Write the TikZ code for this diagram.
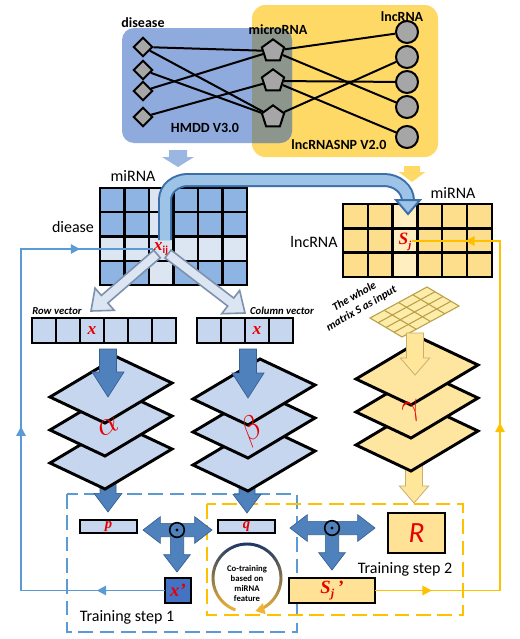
\documentclass[tikz,border=0pt]{standalone}
\usepackage{fontspec}
\setmainfont{Carlito}
\newfontfamily\tms{Liberation Serif}
\usetikzlibrary{shapes.geometric,arrows.meta,calc,decorations.markings}
\definecolor{boxblue}{RGB}{143,170,220}
\definecolor{boxyel}{RGB}{255,217,102}
\definecolor{ovl}{RGB}{140,150,140}
\definecolor{shgray}{RGB}{166,166,166}
\definecolor{mdark}{RGB}{141,180,226}
\definecolor{mpale}{RGB}{220,230,242}
\definecolor{ydark}{RGB}{253,222,140}
\definecolor{ypale}{RGB}{254,238,192}
\definecolor{vfill}{RGB}{198,214,238}
\definecolor{sfill}{RGB}{254,230,160}
\definecolor{arrblue}{RGB}{79,129,189}
\definecolor{arrblueb}{RGB}{55,96,146}
\definecolor{holfill}{RGB}{220,230,242}
\definecolor{holdraw}{RGB}{125,145,175}
\definecolor{fbblue}{RGB}{91,155,213}
\definecolor{fbyel}{RGB}{255,192,0}
\definecolor{xpfill}{RGB}{68,114,196}
\definecolor{navyc}{RGB}{32,56,100}
\definecolor{goldc}{RGB}{240,180,50}
\definecolor{redc}{RGB}{230,0,0}
\definecolor{bandb}{RGB}{60,110,170}
\definecolor{bandf}{RGB}{157,195,230}
\definecolor{yarrf}{RGB}{255,230,153}
\definecolor{yarrd}{RGB}{200,175,110}
\definecolor{topblue}{RGB}{155,183,225}
\definecolor{gridyel}{RGB}{253,236,170}
\definecolor{gridline}{RGB}{185,160,70}
\definecolor{rfill}{RGB}{255,226,150}

\newcommand\fatarrow[6]{%
  \coordinate (fah) at ($(#3)!#6!(#2)$);%
  \path[#1] ($(#2)!#4!90:(#3)$) -- ($(fah)!#4!90:(#3)$) -- ($(fah)!#5!90:(#3)$) -- (#3) -- ($(fah)!#5!-90:(#3)$) -- ($(fah)!#4!-90:(#3)$) -- ($(#2)!#4!-90:(#3)$) -- cycle;}
\newcommand\stacklayer[3]{%
  \draw[line width=2.2pt, fill=#3] ({#1-61},{#2+7}) -- ({#1+6},{#2-33}) -- ({#1+61},{#2-7}) -- ({#1-6},{#2+33}) -- cycle;}
\newcommand\redm{\color{redc}\tms\bfseries\itshape}

\tikzset{
 dia/.style={diamond, draw, line width=1.5pt, fill=shgray, minimum width=14.5pt, minimum height=14.5pt, inner sep=0pt},
 pent/.style={regular polygon, regular polygon sides=5, draw, line width=1.5pt, fill=shgray, minimum size=17.5pt, inner sep=0pt},
 circ/.style={circle, draw, line width=1.5pt, fill=shgray, minimum size=16.5pt, inner sep=0pt},
 net/.style={line width=1.5pt},
 toplab/.style={font=\bfseries\fontsize{10.5}{12}\selectfont, inner sep=1pt},
 mlab/.style={font=\fontsize{12}{14}\selectfont, inner sep=1pt},
 vlab/.style={font=\bfseries\itshape\fontsize{8}{9}\selectfont, inner sep=1pt},
 mline/.style={line width=1.8pt, line cap=rect},
 vcell/.style={draw, line width=1.5pt, fill=vfill, minimum width=18pt, minimum height=18.75pt, inner sep=0pt},
 solidarr/.style={fill=arrblue, draw=arrblueb, line width=0.5pt},
 yarr/.style={fill=yarrf, draw=yarrd, line width=0.6pt},
 holarr/.style={fill=holfill, draw=holdraw, line width=1.2pt},
 fbl/.style={fbblue, line width=1.4pt, line cap=rect},
 fol/.style={fbyel, line width=1.4pt, line cap=rect},
 midarrow/.style={postaction={decorate}, decoration={markings, mark=at position #1 with {\arrow{Triangle[length=7pt,width=7pt]}}}},
 dashbox/.style={line width=1.5pt, dash pattern=on 11pt off 5pt},
 obox/.style={draw, line width=1.5pt, inner sep=0pt},
 crossc/.style={circle, draw, line width=1.2pt, fill=arrblue, minimum size=11pt, inner sep=0pt},
 steplab/.style={font=\fontsize{12}{14}\selectfont, inner sep=1pt},
 greek/.style={inner sep=0pt, font=\color{redc}\fontsize{24}{24}\selectfont},
}

\begin{document}
\begin{tikzpicture}[x=0.75pt,y=-0.75pt]
\useasboundingbox (0,0) rectangle (520,639);
\fill[white] (0,0) rectangle (520,639);

% ---------- top databases ----------
\fill[boxyel, rounded corners=10pt] (252,5) rectangle (438,157);
\fill[boxblue, rounded corners=9pt] (122,28) rectangle (292,143);
\begin{scope}
  \clip[rounded corners=9pt] (122,28) rectangle (292,143);
  \fill[ovl, rounded corners=10pt] (252,5) rectangle (438,157);
\end{scope}

\node[dia] (d1) at (143,47) {};
\node[dia] (d2) at (143,70) {};
\node[dia] (d3) at (143,91) {};
\node[dia] (d4) at (143,117) {};
\node[pent] (m1) at (273,51) {};
\node[pent] (m2) at (273,81) {};
\node[pent] (m3) at (273,117) {};
\node[circ] (c1) at (407,32) {};
\node[circ] (c2) at (407,57) {};
\node[circ] (c3) at (407,82) {};
\node[circ] (c4) at (407,107) {};
\node[circ] (c5) at (407,137) {};
\foreach \a/\b in {d1/m1,d1/m3,d2/m3,d3/m1,d4/m2,m1/c1,m1/c4,m2/c3,m2/c5,m3/c2}
  \draw[net] (\a) -- (\b);

\node[toplab] (ldis) at (143,23) {disease};
\node[toplab] (lmic) at (278,30) {microRNA};
\node[toplab] (llnc) at (402,17) {lncRNA};
\node[toplab] (lhmdd) at (205,128) {HMDD V3.0};
\node[toplab] (lsnp) at (339,145) {lncRNASNP V2.0};

\coordinate (ta0) at (178,150); \coordinate (ta1) at (178,167);
\fatarrow{fill=topblue}{ta0}{ta1}{6.75pt}{12pt}{7.5pt}
\coordinate (tb0) at (412,166); \coordinate (tb1) at (412,182);
\fatarrow{fill=boxyel}{tb0}{tb1}{6pt}{10pt}{7.5pt}

% ---------- matrices ----------
\foreach \i in {0,...,5}{\foreach \j in {0,...,3}{%
  \ifnum\i=2 \def\mcol{mpale}\else\ifnum\j=2 \def\mcol{mpale}\else\def\mcol{mdark}\fi\fi
  \fill[\mcol] ({100+24.5*\i},{188+24.25*\j}) rectangle ++(24.5,24.25);}}
\foreach \i in {0,...,6} \draw[mline] ({100+24.5*\i},188) -- ({100+24.5*\i},285);
\foreach \j in {0,...,4} \draw[mline] (100,{188+24.25*\j}) -- (247,{188+24.25*\j});

\foreach \i in {0,...,5}{\foreach \j in {0,...,2}{%
  \ifnum\i=2 \def\mcol{ypale}\else\def\mcol{ydark}\fi
  \fill[\mcol] ({343+24.8*\i},{204+24.3*\j}) rectangle ++(24.8,24.3);}}
\foreach \i in {0,...,6} \draw[mline] ({343+24.8*\i},204) -- ({343+24.8*\i},277);
\foreach \j in {0,...,3} \draw[mline] (343,{204+24.3*\j}) -- (492,{204+24.3*\j});

\node[mlab] (lmi1) at (133,176) {miRNA};
\node[mlab] (ldie) at (73,227) {diease};
\node[mlab] (lmi2) at (453,193) {miRNA};
\node[mlab] (llnc2) at (314,242) {lncRNA};

% ---------- band arrow x_ij -> s_j ----------
\draw[bandb, line width=10.5pt] (165,240) -- (165,200) to[out=90,in=180] (188,180) -- (384,180) to[out=0,in=90] (408,201);
\draw[bandf, line width=7.5pt] (165,240) -- (165,200) to[out=90,in=180] (188,180) -- (384,180) to[out=0,in=90] (408,201);
\fill[bandf, draw=bandb, line width=1.5pt] (396,200) -- (420,200) -- (408,214) -- cycle;

% ---------- hollow arrows ----------
\coordinate (ha0) at (157,254); \coordinate (ha1) at (91,311);
\fatarrow{holarr}{ha0}{ha1}{3.75pt}{11pt}{13.5pt}
\coordinate (hb0) at (168,254); \coordinate (hb1) at (245,313);
\fatarrow{holarr}{hb0}{hb1}{3.75pt}{11pt}{13.5pt}

\node[inner sep=1pt] (xij) at (161,249) {\redm\fontsize{13}{13}\selectfont x\raisebox{-2.5pt}{\normalfont\bfseries\color{redc}\fontsize{8}{8}\selectfont ij}};
\node[inner sep=1pt] (sj) at (405,242) {\redm\fontsize{13}{13}\selectfont S\raisebox{-3pt}{\fontsize{8}{8}\selectfont j}};

% ---------- vectors ----------
\node[vlab] (lrow) at (57,311) {Row vector};
\node[vlab] (lcol) at (282,311) {Column vector};
\foreach \i in {0,...,5} \node[vcell] (r\i) at ({44+24*\i},330.5) {};
\foreach \i in {0,...,3} \node[vcell] (k\i) at ({209+24*\i},330.5) {};
\node[inner sep=0pt] (rx) at (r2) {\redm\fontsize{13}{13}\selectfont x};
\node[inner sep=0pt] (kx) at (k2) {\redm\fontsize{13}{13}\selectfont x};

% ---------- small grid ----------
\fill[gridyel, draw=gridline, line width=0.8pt] (370,318) -- (427,287) -- (459,306) -- (402,337) -- cycle;
\foreach \k in {1,2,3}{
  \draw[gridline, line width=0.8pt] ({370+57*\k/4},{318-31*\k/4}) -- ++(32,19);
  \draw[gridline, line width=0.8pt] ({370+32*\k/4},{318+19*\k/4}) -- ++(57,-31);}
\node[rotate=30, align=center, inner sep=0pt, font=\bfseries\itshape\fontsize{8.5}{10.5}\selectfont] (wm) at (358,303) {The whole\\matrix S as input};

% ---------- dashed training boxes ----------
\draw[dashbox, fbblue] (67,494) rectangle (297,632);
\draw[dashbox, fbyel] (207,504) rectangle (463,615);

% ---------- arrows behind stacks ----------
\coordinate (aa0) at (108,470); \coordinate (aa1) at (108,512);
\fatarrow{solidarr}{aa0}{aa1}{6pt}{10.5pt}{14pt}
\coordinate (ab0) at (247,470); \coordinate (ab1) at (247,513);
\fatarrow{solidarr}{ab0}{ab1}{6pt}{10.5pt}{14pt}
\coordinate (ag0) at (414,455); \coordinate (ag1) at (414,503);
\fatarrow{yarr}{ag0}{ag1}{6.4pt}{11pt}{12.75pt}

% ---------- stacks ----------
\stacklayer{111}{456}{vfill}
\stacklayer{111}{423}{vfill}
\stacklayer{111}{390}{vfill}
\stacklayer{254}{458}{vfill}
\stacklayer{254}{425}{vfill}
\stacklayer{254}{392}{vfill}
\stacklayer{417}{438}{sfill}
\stacklayer{417}{405}{sfill}
\stacklayer{417}{372}{sfill}
\node[greek, rotate=25] (la) at (108,427) {$\alpha$};
\node[greek, rotate=35] (lb) at (252,431) {$\beta$};
\node[greek, rotate=20] (lg) at (412,412) {$\gamma$};

% ---------- arrows onto stacks ----------
\coordinate (ra0) at (108,349); \coordinate (ra1) at (108,397);
\fatarrow{solidarr}{ra0}{ra1}{6.4pt}{12pt}{18.75pt}
\coordinate (rb0) at (248,349); \coordinate (rb1) at (248,398);
\fatarrow{solidarr}{rb0}{rb1}{6.4pt}{12pt}{18.75pt}
\coordinate (rg0) at (415,333); \coordinate (rg1) at (415,375);
\fatarrow{yarr}{rg0}{rg1}{6.4pt}{11pt}{12.75pt}

% ---------- training boxes ----------
\node[obox, fill=vfill, minimum width=42.75pt, minimum height=9.75pt] (p) at (108.5,526.5) {\redm\fontsize{11}{11}\selectfont p};
\node[obox, fill=vfill, minimum width=42.75pt, minimum height=9.75pt] (q) at (246.5,526.5) {\redm\fontsize{11}{11}\selectfont q};
\node[obox, fill=xpfill, minimum width=19.5pt, minimum height=18.75pt] (xp) at (178,590.5) {\redm\fontsize{14}{14}\selectfont x’};
\node[obox, fill=rfill, minimum width=42.75pt, minimum height=30pt] (R) at (416.5,533) {\color{redc}\itshape\fontsize{22}{22}\selectfont R};
\node[obox, fill=rfill, minimum width=64.5pt, minimum height=18.75pt] (Sjp) at (332,590.5) {\redm\fontsize{14}{14}\selectfont S\raisebox{-3pt}{\fontsize{9}{9}\selectfont j}\,’};

% cross arrows
\coordinate (x1) at (177,530);
\coordinate (x1l) at (143,530); \coordinate (x1r) at (212,530); \coordinate (x1d) at (177,572);
\fatarrow{solidarr}{x1}{x1l}{5pt}{10pt}{13pt}
\fatarrow{solidarr}{x1}{x1r}{5pt}{10pt}{13pt}
\fatarrow{solidarr}{x1}{x1d}{5pt}{10pt}{13pt}
\node[crossc] (x1c) at (x1) {};
\fill (x1c) circle[radius=1.2pt];
\coordinate (x2) at (332,528);
\coordinate (x2l) at (290,528); \coordinate (x2r) at (375,528); \coordinate (x2d) at (332,570);
\fatarrow{solidarr}{x2}{x2l}{5pt}{10pt}{13pt}
\fatarrow{solidarr}{x2}{x2r}{5pt}{10pt}{13pt}
\fatarrow{solidarr}{x2}{x2d}{5pt}{10pt}{13pt}
\node[crossc] (x2c) at (x2) {};
\fill (x2c) circle[radius=1.2pt];

\node[steplab] (ts1) at (127,617) {Training step 1};
\node[steplab] (ts2) at (405,569) {Training step 2};

% co-training circle
\coordinate (cc) at (247,578);
\foreach \a in {250,245,...,-60}{
  \pgfmathtruncatemacro\t{50*(1-sin(\a))}
  \pgfmathsetmacro\b{\a-5.5}
  \draw[line width=2.2pt, color=goldc!\t!navyc] ($(cc)+(\a:25.5pt)$) arc[start angle=\a, end angle=\b, radius=25.5pt];}
\draw[goldc, line width=2.2pt, -{Triangle[length=7pt,width=8pt]}] ($(cc)+(-60:25.5pt)$) arc[start angle=-60, end angle=-76, radius=25.5pt];
\node[align=center, inner sep=0pt, font=\bfseries\fontsize{6.5}{7.3}\selectfont] (cot) at (247,583.5) {Co-training\\based on\\miRNA\\feature};

% ---------- feedback lines ----------
\coordinate (fbA) at (21,249); \coordinate (fbB) at (21,590.5);
\draw[fbl, midarrow=0.45] (fbA) -- (fbA -| xij.west);
\draw[fbl, midarrow=0.48] (fbB) -- (fbA);
\draw[fbl, midarrow=0.47] (xp.west) -- (fbB);
\coordinate (foA) at (500,241); \coordinate (foB) at (500,590.5);
\draw[fol, midarrow=0.4] (foA) -- (foA -| sj.east);
\draw[fol, midarrow=0.48] (foB) -- (foA);
\draw[fol, midarrow=0.45] (Sjp.east) -- (foB);
\end{tikzpicture}
\end{document}
